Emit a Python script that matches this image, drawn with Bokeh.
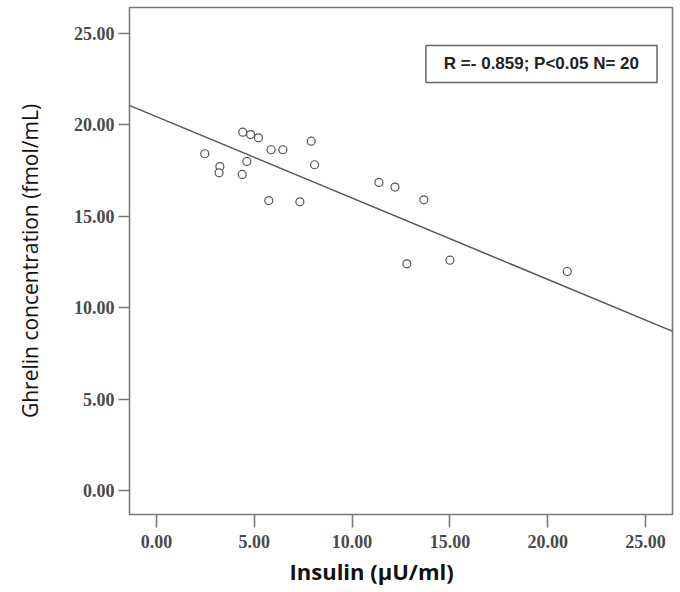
from bokeh.plotting import figure
from bokeh.models import Range1d, FixedTicker, NumeralTickFormatter, Label, Slope, Title
from bokeh.embed import file_html
from bokeh.resources import INLINE

# Data
insulin = [2.47, 3.24, 3.20, 4.41, 4.81, 5.21, 4.38, 4.62, 5.74, 5.86,
           6.46, 7.33, 7.91, 8.08, 11.37, 12.19, 13.67, 12.80, 15.00, 21.00]
ghrelin = [18.42, 17.72, 17.38, 19.60, 19.47, 19.29, 17.29, 18.00, 15.86, 18.64,
           18.64, 15.79, 19.11, 17.82, 16.85, 16.60, 15.90, 12.40, 12.60, 11.98]
fit_intercept = 20.45
fit_slope = -0.445
tick_values = [0, 5, 10, 15, 20, 25]
stats_text = "R =- 0.859; P<0.05 N= 20"
x_title = "Insulin (\u00b5U/ml)"
y_title = "Ghrelin concentration (fmol/mL)"

p = figure(width=680, height=592, output_backend="svg", toolbar_location=None,
           x_range=Range1d(-1.38, 26.38), y_range=Range1d(-1.31, 26.42),
           min_border_left=129, min_border_right=8, min_border_top=7, min_border_bottom=78)

p.background_fill_color = "white"
p.border_fill_color = "white"
p.outline_line_color = "#7a7a7a"
p.outline_line_width = 1.6
p.grid.visible = False

for ax in (p.xaxis[0], p.yaxis[0]):
    ax.ticker = FixedTicker(ticks=tick_values)
    ax.formatter = NumeralTickFormatter(format="0.00")
    ax.axis_line_color = None
    ax.major_tick_line_color = "#7a7a7a"
    ax.major_tick_line_width = 1.6
    ax.major_tick_in = 0
    ax.minor_tick_line_color = None
    ax.major_label_text_font = "Liberation Serif"
    ax.major_label_text_font_style = "bold"
    ax.major_label_text_font_size = "18px"
    ax.major_label_text_color = "#4a4a4a"

p.xaxis.major_tick_out = 13
p.xaxis.major_label_standoff = 7
p.yaxis.major_tick_out = 11
p.yaxis.major_label_standoff = 4

p.yaxis.axis_label = y_title
p.yaxis.axis_label_text_font = "Open Sans"
p.yaxis.axis_label_text_font_style = "normal"
p.yaxis.axis_label_text_font_size = "21px"
p.yaxis.axis_label_text_color = "#111111"
p.yaxis.axis_label_standoff = 27

# x-axis title sits left of the frame centre in the reference
p.add_layout(Title(text=x_title, align="left", offset=160, standoff=7,
                   text_font="Open Sans", text_font_style="bold", text_font_size="22px",
                   text_color="#111111"), "below")

p.add_layout(Slope(gradient=fit_slope, y_intercept=fit_intercept,
                   line_color="#555555", line_width=1.5))

p.scatter(insulin, ghrelin, marker="circle", size=8, fill_color="white",
          line_color="#555555", line_width=1.2)

box = Label(x=19.68, y=23.33, text=stats_text, text_align="center", text_baseline="middle",
            text_font="Liberation Sans", text_font_style="bold", text_font_size="17px",
            text_color="#222222", background_fill_color="white",
            border_line_color="#666666", border_line_width=1.5, padding=(18, 9))
p.add_layout(box)

open("out.html", "w").write(file_html(p, INLINE))
